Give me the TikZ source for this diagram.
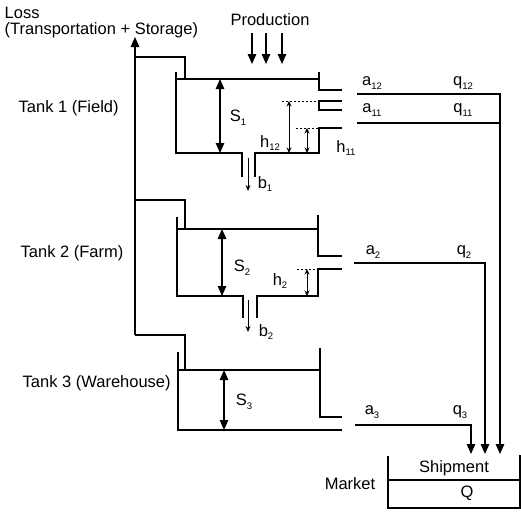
\documentclass[tikz,border=0pt]{standalone}
\usepackage{fontspec}
\setmainfont{Liberation Sans}
\usetikzlibrary{arrows.meta}
\newcommand\sbs[1]{\raisebox{-0.45ex}{\fontsize{9.5}{9.5}\selectfont #1}}
\begin{document}
\begin{tikzpicture}[x=1pt,y=-1pt, line width=1.4pt, line join=miter,
  lbl/.style={font=\fontsize{16.5}{18}\selectfont, inner sep=0pt},
  bigarrow/.style={-{Triangle[length=10pt,width=8.5pt]}},
  dblarrow/.style={{Triangle[length=10pt,width=8.5pt]}-{Triangle[length=10pt,width=8.5pt]}, line width=1.2pt},
  smallarrow/.style={{Stealth[length=5.5pt,width=5pt]}-{Stealth[length=5.5pt,width=5pt]}, line width=1pt},
  downarrow/.style={-{Stealth[length=6pt,width=5pt]}, line width=1pt},
  dotline/.style={line width=1pt, dash pattern=on 2pt off 2pt}]
\useasboundingbox (0,0) rectangle (521,514);

% ---------- labels ----------
\node[lbl, anchor=west] (loss) at (4,13) {Loss};
\node[lbl, anchor=west] (transp) at (4,30) {(Transportation + Storage)};
\node[lbl] (prod) at (270,20) {Production};
\node[lbl, anchor=west] (t1) at (18,108) {Tank 1 (Field)};
\node[lbl, anchor=west] (t2) at (20,253) {Tank 2 (Farm)};
\node[lbl, anchor=west] (t3) at (22,383) {Tank 3 (Warehouse)};

% ---------- loss line ----------
\coordinate (lossbot) at (135,335);
\coordinate (losstop) at (135,37);
\draw[bigarrow] (lossbot) -- (losstop);
\draw (135,57) -- (185,57) -- (185,79);
\draw (135,200) -- (185,200) -- (185,229);
\draw (lossbot) -- (185,335) -- (185,370);

% ---------- production ----------
\foreach \x/\n in {252/p1,266/p2,282/p3}{
  \coordinate (\n s) at (\x,33);
  \coordinate (\n e) at (\x,64);
  \draw[bigarrow] (\n s) -- (\n e);
}

% ---------- tank 1 ----------
\draw (176,72) -- (176,153) -- (242,153) -- (242,177);
\draw (255,177) -- (255,153) -- (319,153) -- (319,128) -- (342,128);
\draw (176,79) -- (319,79);
\draw (319,72) -- (319,90) -- (342,90);
\draw (342,101) -- (319,101) -- (319,110) -- (342,110);
\draw[dotline] (282,101) -- (319,101);
\draw[dotline] (296,128) -- (319,128);
\coordinate (s1t) at (220,79); \coordinate (s1b) at (220,153);
\draw[dblarrow] (s1t) -- (s1b);
\coordinate (h12t) at (289,101); \coordinate (h12b) at (289,153);
\draw[smallarrow] (h12t) -- (h12b);
\coordinate (h11t) at (307,128); \coordinate (h11b) at (307,153);
\draw[smallarrow] (h11t) -- (h11b);
\coordinate (b1t) at (248,158); \coordinate (b1b) at (248,191);
\draw[downarrow] (b1t) -- (b1b);
\node[lbl] (S1) at (238,118) {S\sbs{1}};
\node[lbl] (h12) at (270,143) {h\sbs{12}};
\node[lbl] (h11) at (346,148) {h\sbs{11}};
\node[lbl] (b1) at (265,184) {b\sbs{1}};

% ---------- tank 2 ----------
\draw (177,217) -- (177,296) -- (243,296) -- (243,318);
\draw (257,318) -- (257,296) -- (318,296) -- (318,269) -- (342,269);
\draw (177,229) -- (318,229);
\draw (318,215) -- (318,256) -- (342,256);
\draw[dotline] (297,269) -- (318,269);
\coordinate (s2t) at (222,229); \coordinate (s2b) at (222,296);
\draw[dblarrow] (s2t) -- (s2b);
\coordinate (h2t) at (307,269); \coordinate (h2b) at (307,296);
\draw[smallarrow] (h2t) -- (h2b);
\coordinate (b2t) at (248,300); \coordinate (b2b) at (248,332);
\draw[downarrow] (b2t) -- (b2b);
\node[lbl] (S2) at (242,268) {S\sbs{2}};
\node[lbl] (h2) at (280,281) {h\sbs{2}};
\node[lbl] (b2) at (266,332) {b\sbs{2}};

% ---------- tank 3 ----------
\draw (178,352) -- (178,430) -- (342,430);
\draw (178,370) -- (320,370);
\draw (320,348) -- (320,417) -- (342,417);
\coordinate (s3t) at (224,370); \coordinate (s3b) at (224,430);
\draw[dblarrow] (s3t) -- (s3b);
\node[lbl] (S3) at (244,402) {S\sbs{3}};

% ---------- outflows ----------
\coordinate (m1) at (500,454);
\coordinate (m2) at (485,454);
\coordinate (m3) at (471,454);
\draw[bigarrow] (357,94) -- (500,94) -- (m1);
\draw (357,123) -- (500,123);
\draw[bigarrow] (354,263) -- (485,263) -- (m2);
\draw[bigarrow] (355,425) -- (471,425) -- (m3);
\node[lbl] (a12) at (372,83) {a\sbs{12}};
\node[lbl] (q12) at (463,83) {q\sbs{12}};
\node[lbl] (a11) at (372,110) {a\sbs{11}};
\node[lbl] (q11) at (463,110) {q\sbs{11}};
\node[lbl] (a2) at (373,252) {a\sbs{2}};
\node[lbl] (q2) at (464,252) {q\sbs{2}};
\node[lbl] (a3) at (372,412) {a\sbs{3}};
\node[lbl] (q3) at (460,412) {q\sbs{3}};

% ---------- market ----------
\draw (388,456) -- (388,508) -- (520,508) -- (520,455);
\draw (388,480) -- (520,480);
\node[lbl] (ship) at (454,468) {Shipment};
\node[lbl] (Q) at (467,493) {Q};
\node[lbl] (market) at (350,484) {Market};
\end{tikzpicture}
\end{document}
